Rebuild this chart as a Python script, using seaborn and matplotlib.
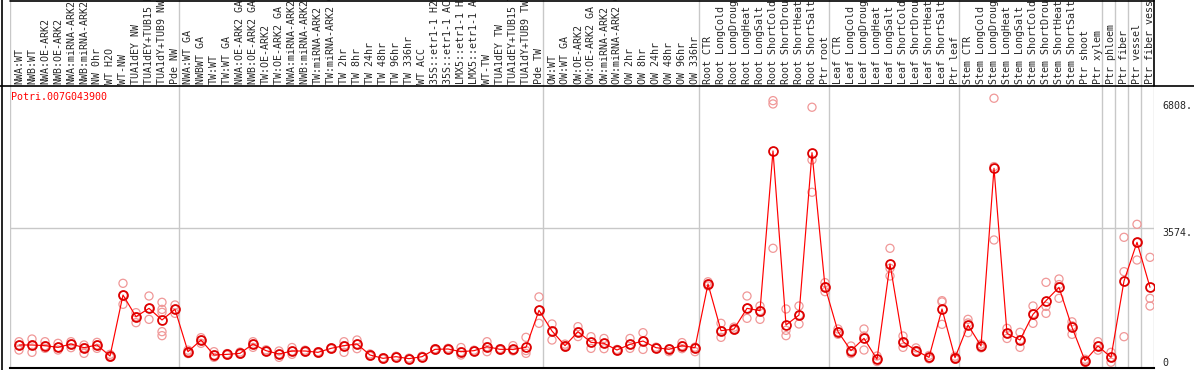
import numpy as np
import pandas as pd
import matplotlib
matplotlib.use('Agg')
import matplotlib.pyplot as plt
from matplotlib.lines import Line2D
import seaborn as sns

gene = 'Potri.007G043900'

labels = [
    # NW
    'NWA:WT', 'NWB:WT', 'NWA:OE-ARK2', 'NWB:OE-ARK2', 'NWA:miRNA-ARK2', 'NWB:miRNA-ARK2',
    'NW 0hr', 'WT H2O', 'WT-NW', 'TUA1dEY NW', 'TUA1dEY+TUB15 NW', 'TUA1dY+TUB9 NW', 'Pde NW',
    # TW
    'NWA:WT GA', 'NWBWT GA', 'TW:WT', 'TW:WT GA', 'NWA:OE-ARK2 GA', 'NWB:OE-ARK2 GA',
    'TW:OE-ARK2', 'TW:OE-ARK2 GA', 'NWA:miRNA-ARK2 GA', 'NWB:miRNA-ARK2 GA', 'TW:miRNA-ARK2',
    'TW:miRNA-ARK2 GA', 'TW 2hr', 'TW 8hr', 'TW 24hr', 'TW 48hr', 'TW 96hr', 'TW 336hr',
    'WT ACC', '35S::etr1-1 H2O', '35S::etr1-1 ACC', 'LMX5::etr1-1 H2O', 'LMX5::etr1-1 ACC',
    'WT-TW', 'TUA1dEY TW', 'TUA1dEY+TUB15 TW', 'TUA1dY+TUB9 TW', 'Pde TW',
    # OW
    'OW:WT', 'OW:WT GA', 'OW:OE-ARK2', 'OW:OE-ARK2 GA', 'OW:miRNA-ARK2', 'OW:miRNA-ARK2 GA',
    'OW 2hr', 'OW 8hr', 'OW 24hr', 'OW 48hr', 'OW 96hr', 'OW 336hr',
    # root
    'Root CTR', 'Root LongCold', 'Root LongDrought', 'Root LongHeat', 'Root LongSalt',
    'Root ShortCold', 'Root ShortDrought', 'Root ShortHeat', 'Root ShortSalt', 'Ptr root',
    # leaf
    'Leaf CTR', 'Leaf LongCold', 'Leaf LongDrought', 'Leaf LongHeat', 'Leaf LongSalt',
    'Leaf ShortCold', 'Leaf ShortDrought', 'Leaf ShortHeat', 'Leaf ShortSalt', 'Ptr leaf',
    # stem
    'Stem CTR', 'Stem LongCold', 'Stem LongDrought', 'Stem LongHeat', 'Stem LongSalt',
    'Stem ShortCold', 'Stem ShortDrought', 'Stem ShortHeat', 'Stem ShortSalt', 'Ptr shoot',
    'Ptr xylem',
    'Ptr phloem', 'Ptr fiber', 'Ptr vessel', 'Ptr fiber vessel',
]

# group boundaries (column index)
bounds = [0, 13, 41, 53, 63, 73, 84, 85, 86, 87, 88]

means = [477, 477, 459, 415, 503, 406, 477, 185, 1800, 1227, 1447, 1139, 1421,
         300, 609, 212, 229, 256, 503, 327, 238, 318, 318, 283, 388, 459, 503, 212,
         124, 168, 115, 168, 362, 371, 300, 327, 433, 362, 362, 415, 1395,
         847, 459, 829, 547, 521, 344, 494, 582, 406, 362, 459, 406,
         2092, 856, 900, 1447, 1386, 5614, 1006, 1271, 5569, 2021,
         829, 327, 653, 98, 2621, 564, 327, 150, 1430, 141,
         1006, 450, 5155, 785, 609, 1289, 1650, 2004, 945, 62, 450,
         150, 2171, 3196, 2004]

reps = [
    [564, 477, 344], [635, 477, 283], [564, 459, 388], [521, 415, 344], [564, 503, 406],
    [477, 406, 256], [547, 477, 388], [229, 185, 150], [2110, 1800, 1554], [1333, 1227, 1068],
    [1774, 1447, 1156], [1607, 1420, 1342, 830, 724], [1536, 1421, 1315],
    [340, 300, 250], [671, 609, 521], [300, 212, 150], [250, 229, 210], [290, 256, 230],
    [564, 503, 415], [350, 327, 300], [318, 238, 150], [410, 318, 230], [340, 318, 290],
    [300, 283, 260], [400, 388, 370], [564, 459, 283], [609, 503, 380], [240, 212, 180],
    [140, 124, 100], [180, 168, 150], [130, 115, 100], [180, 168, 150], [380, 362, 340],
    [390, 371, 350], [410, 300, 212], [340, 327, 310], [564, 433, 300], [380, 362, 340],
    [460, 362, 320], [680, 330, 256], [1750, 1395, 1051],
    [1033, 847, 609], [500, 459, 420], [962, 829, 700], [697, 547, 388], [650, 521, 380],
    [360, 344, 320], [650, 494, 388], [803, 582, 360], [420, 406, 390], [380, 362, 300],
    [540, 459, 380], [420, 406, 300],
    [2150, 2092, 2040], [1051, 856, 680], [950, 900, 870], [1774, 1447, 1183],
    [1509, 1386, 1156], [6946, 6858, 3037], [1430, 865, 724], [1509, 1271, 1033],
    [6771, 5376, 4520], [2127, 2021, 1889],
    [900, 829, 760], [450, 327, 250], [900, 715, 344], [185, 98, 40], [3037, 2507, 2304],
    [715, 564, 415], [400, 327, 290], [200, 150, 110], [1650, 1616, 1024], [180, 141, 100],
    [1156, 1060, 803], [500, 450, 400], [7009, 5200, 3257], [918, 785, 650], [812, 609, 415],
    [1509, 1307, 1051], [2136, 1500, 1315], [2224, 2076, 1712], [1090, 986, 759],
    [100, 62, 20], [564, 450, 340], [283, 150, 20], [3328, 2418, 697], [3672, 3189, 2727],
    [2798, 1712, 1509],
]

ticks = [0, 3574, 6808]
tick_text = ['0', '3574.', '6808.']

# ---- data frames
xpos = np.arange(len(labels)) + 9 / 13
mean_df = pd.DataFrame({'x': xpos, 'value': means})
rx, rv = [], []
for i, r in enumerate(reps):
    for v in r:
        rx.append(xpos[i])
        rv.append(v)
rep_df = pd.DataFrame({'x': rx, 'value': rv})

sns.set_style('white')
plt.rcParams['font.family'] = ['DejaVu Sans Mono']

W, H = 1194, 370
fig = plt.figure(figsize=(W / 100, H / 100), dpi=100)

x0, x1 = 10, 1154
y_head = 86
ax = fig.add_axes([x0 / W, 2 / H, (x1 - x0) / W, (368 - y_head) / H])
hx = fig.add_axes([x0 / W, (H - y_head) / H, (x1 - x0) / W, y_head / H])

# grid lines
for b in bounds:
    ax.axvline(b, color='#c8c8c8', lw=1, zorder=0)
    hx.axvline(b, color='#c8c8c8', lw=1, zorder=0)
ax.axhline(3574, color='#c8c8c8', lw=1, zorder=0)

sns.scatterplot(data=rep_df, x='x', y='value', ax=ax, marker='o', s=34,
                facecolors='none', edgecolor='#f09898', linewidth=0.9, zorder=2)
sns.lineplot(data=mean_df, x='x', y='value', ax=ax, color='red', lw=0.85,
             marker='o', markersize=6.4, markerfacecolor='none',
             markeredgecolor='#dd0000', markeredgewidth=1.3, zorder=3)

ax.set_xlim(0, 88)
ax.set_ylim(-132, 7333)
ax.set_xticks([])
ax.set_yticks([])
ax.set_xlabel('')
ax.set_ylabel('')
for s in ['left', 'right', 'top']:
    ax.spines[s].set_visible(False)
ax.spines['bottom'].set_color('black')
ax.spines['bottom'].set_linewidth(1.5)

ax.text(0.05, 7042, gene, color='red', fontsize=7.2, ha='left', va='center')

# right value labels
for t, s in zip(ticks, tick_text):
    va = 'top' if t == 3574 else 'center'
    ax.text(88 + 8 / 13, t, s, fontsize=7.2, ha='left', va=va, clip_on=False)

# header labels (cut at the top, as in the original)
hx.set_xlim(0, 88)
hx.set_ylim(0, y_head)
hx.set_xticks([])
hx.set_yticks([])
for s in hx.spines.values():
    s.set_visible(False)
for i, lab in enumerate(labels):
    hx.text(xpos[i], 2, lab, rotation=90, ha='center', va='bottom', fontsize=7.2,
            clip_on=True)

# borders
fig.add_artist(Line2D([0, 1], [(H - 85.5) / H] * 2, color='black', lw=1.2))
fig.add_artist(Line2D([1.5 / W] * 2, [0, 1], color='black', lw=1.2))
fig.add_artist(Line2D([x0 / W, x1 / W], [(H - 0.5) / H] * 2, color='black', lw=1.2))
fig.add_artist(Line2D([x1 / W] * 2, [(H - 86) / H, 1], color='black', lw=1.2))

fig.savefig('out.png', dpi=100)
